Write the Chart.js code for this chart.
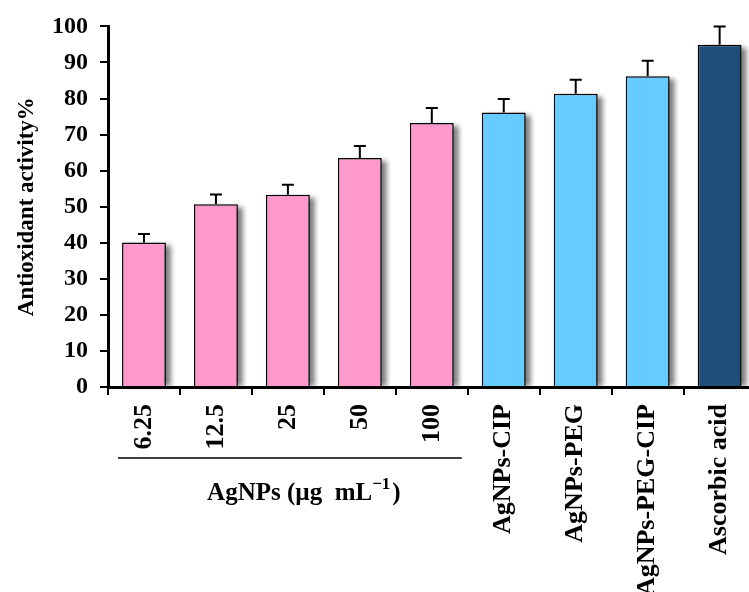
<!DOCTYPE html>
<html>
<head>
<meta charset="utf-8">
<script src="https://cdn.jsdelivr.net/npm/chart.js@4/dist/chart.umd.min.js"></script>
<style>
html,body{margin:0;padding:0;background:#fff;overflow:hidden;width:749px;height:592px;}
#wrap{width:749px;height:592px;overflow:hidden;position:relative;}
canvas{display:block;}
</style>
</head>
<body>
<div id="wrap"><canvas id="c" width="760" height="592" style="width:760px;height:592px"></canvas></div>
<script>
const categories = ['6.25', '12.5', '25', '50', '100', 'AgNPs-CIP', 'AgNPs-PEG', 'AgNPs-PEG-CIP', 'Ascorbic acid'];
const values = [40.1, 50.7, 53.3, 63.5, 73.2, 76.1, 81.3, 86.2, 94.9];
const errors = [2.3, 2.7, 2.8, 3.3, 4.2, 3.8, 3.9, 4.3, 5.1];
const barColors = ['#FF99CC', '#FF99CC', '#FF99CC', '#FF99CC', '#FF99CC', '#66CCFF', '#66CCFF', '#66CCFF', '#1F4E79'];
const yTitle = 'Antioxidant activity%';
const groupLabel = ['AgNPs (\u00B5g  mL', '\u22121', ')'];
const groupCount = 5;

const SERIF = "'Liberation Serif', 'Times New Roman', serif";

const shadowPlugin = {
  id: 'barShadow',
  beforeDatasetsDraw(chart) {
    const ctx = chart.ctx;
    const meta = chart.getDatasetMeta(0);
    ctx.save();
    ctx.filter = 'blur(2.5px)';
    ctx.fillStyle = 'rgba(0,0,0,0.5)';
    meta.data.forEach((bar) => {
      const w = bar.width;
      const left = bar.x - w / 2 + 5;
      const top = bar.y + 3;
      ctx.fillRect(left, top, w, bar.base - top);
    });
    ctx.restore();
  }
};

const errorPlugin = {
  id: 'errorBars',
  afterDatasetsDraw(chart) {
    const ctx = chart.ctx;
    const meta = chart.getDatasetMeta(0);
    const ys = chart.scales.y;
    ctx.save();
    ctx.strokeStyle = '#000';
    ctx.lineWidth = 2;
    meta.data.forEach((bar, i) => {
      const top = ys.getPixelForValue(values[i] + errors[i]);
      ctx.beginPath();
      ctx.moveTo(bar.x, bar.y);
      ctx.lineTo(bar.x, top);
      ctx.moveTo(bar.x - 6, top);
      ctx.lineTo(bar.x + 6, top);
      ctx.stroke();
    });
    ctx.restore();
  }
};

const groupPlugin = {
  id: 'groupLabel',
  afterDraw(chart) {
    const ctx = chart.ctx;
    const xs = chart.scales.x;
    const step = xs.getPixelForValue(1) - xs.getPixelForValue(0);
    const x0 = xs.getPixelForValue(0) - step / 2 + 10;
    const x1 = xs.getPixelForValue(groupCount - 1) + step / 2 - 6;
    const lineY = chart.chartArea.bottom + 71;
    ctx.save();
    ctx.strokeStyle = '#000';
    ctx.lineWidth = 1.5;
    ctx.beginPath();
    ctx.moveTo(x0, lineY);
    ctx.lineTo(x1, lineY);
    ctx.stroke();
    const mainFont = 'bold 25px ' + SERIF;
    const supFont = 'bold 17px ' + SERIF;
    ctx.font = mainFont;
    const w1 = ctx.measureText(groupLabel[0]).width;
    const w3 = ctx.measureText(groupLabel[2]).width;
    ctx.font = supFont;
    const w2 = ctx.measureText(groupLabel[1]).width;
    const total = w1 + w2 + w3 + 2;
    let x = (x0 + x1) / 2 - total / 2 + 14;
    const baseY = lineY + 42;
    ctx.fillStyle = '#000';
    ctx.textAlign = 'left';
    ctx.textBaseline = 'alphabetic';
    ctx.font = mainFont;
    ctx.fillText(groupLabel[0], x, baseY);
    x += w1;
    ctx.font = supFont;
    ctx.fillText(groupLabel[1], x, baseY - 11);
    x += w2 + 2;
    ctx.font = mainFont;
    ctx.fillText(groupLabel[2], x, baseY);
    ctx.restore();
  }
};

new Chart(document.getElementById('c'), {
  type: 'bar',
  data: {
    labels: categories,
    datasets: [{
      data: values,
      backgroundColor: barColors,
      borderColor: '#000',
      borderWidth: 1.5,
      borderSkipped: 'start',
      barPercentage: 0.61,
      categoryPercentage: 1.0
    }]
  },
  options: {
    responsive: false,
    animation: false,
    devicePixelRatio: 1,
    layout: { padding: { top: 24, right: 3, left: 0, bottom: 0 } },
    plugins: { legend: { display: false }, tooltip: { enabled: false } },
    scales: {
      x: {
        afterFit(scale) { scale.height = 205; },
        grid: { display: true, drawOnChartArea: false, drawTicks: true, tickLength: 8, color: '#000', lineWidth: 2, offset: true },
        border: { display: true, color: '#000', width: 3 },
        ticks: {
          minRotation: 90, maxRotation: 90, autoSkip: false, padding: 9,
          color: '#000',
          font: { family: SERIF, size: 26, weight: 'bold' }
        }
      },
      y: {
        min: 0, max: 100,
        afterFit(scale) { scale.width = 108; },
        grid: { display: true, drawOnChartArea: false, drawTicks: true, tickLength: 8, color: '#000', lineWidth: 2 },
        border: { display: true, color: '#000', width: 3 },
        ticks: {
          stepSize: 10, padding: 12, color: '#000',
          font: { family: SERIF, size: 24, weight: 'bold' }
        },
        title: {
          display: true, text: yTitle, color: '#000',
          padding: { top: 13, bottom: 0 },
          font: { family: SERIF, size: 23, weight: 'bold' }
        }
      }
    }
  },
  plugins: [shadowPlugin, errorPlugin, groupPlugin]
});
</script>
</body>
</html>
